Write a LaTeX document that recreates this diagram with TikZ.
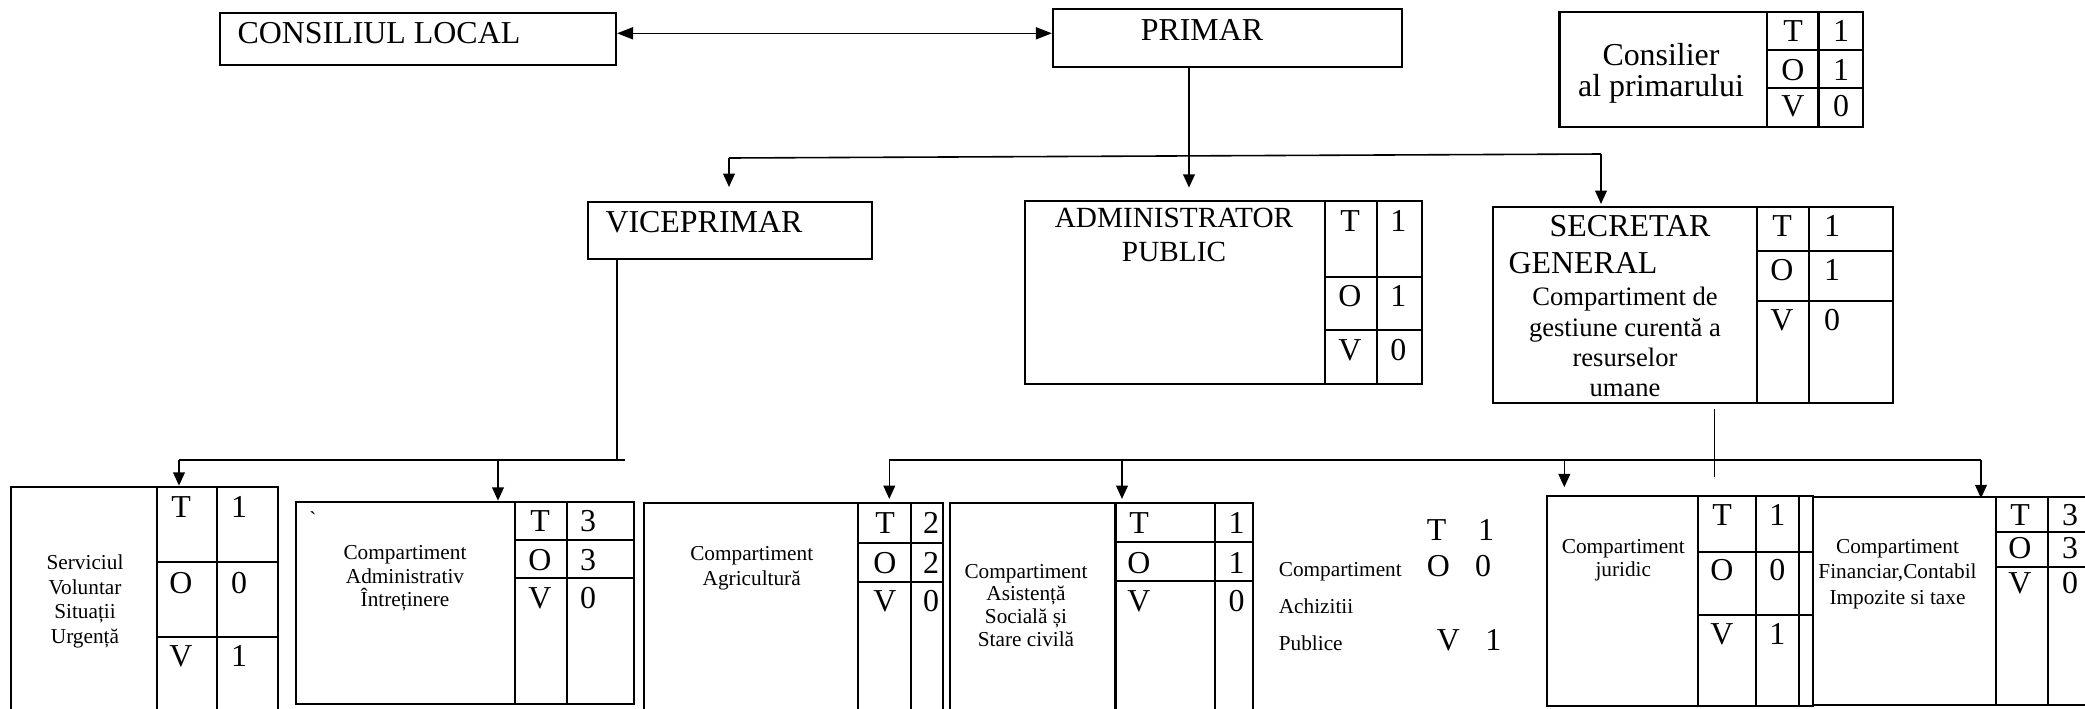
\documentclass[tikz,border=0pt]{standalone}
\usepackage{fontspec}
\setmainfont{Liberation Serif}
\newfontfamily\graveserif{Liberation Serif}[Ligatures=TeXOff]
\usetikzlibrary{arrows.meta,fit,calc}
\newcommand\tovcol[5]{%
  \node[f12] (#1-t) at (#2,#3) {T};
  \node[f12] (#1-o) at (#2,#4) {O};
  \node[f12] (#1-v) at (#2,#5) {V};}
\newcommand\numcol[8]{%
  \node[f12] (#1-nt) at (#2,#3) {#6};
  \node[f12] (#1-no) at (#2,#4) {#7};
  \node[f12] (#1-nv) at (#2,#5) {#8};}
\begin{document}
\begin{tikzpicture}[x=0.376pt,y=-0.376pt,
  box/.style={draw, line width=0.8pt, inner sep=0pt},
  grid/.style={line width=0.8pt},
  conn/.style={line width=0.6pt},
  tipa/.tip={Triangle[length=5pt,width=4.4pt]},
  arr/.style={conn,-tipa},
  tx/.style={inner sep=0pt, anchor=base, align=center},
  f12/.style={tx, font=\fontsize{12}{13.8}\selectfont},
  f11/.style={tx, font=\fontsize{11}{12.7}\selectfont},
  f10/.style={tx, font=\fontsize{10}{11.37}\selectfont},
  f8/.style={tx, font=\fontsize{8}{9.2}\selectfont},
]
\useasboundingbox (0,0) rectangle (2085,708);
\clip (0,0) rectangle (2085,708);

% ---------- top level
\node[box, fit={(220,13)(616,65)}] (cl) {};
\node[f12, anchor=base west] (cltext) at (237,43.3) {CONSILIUL LOCAL};

\node[box, fit={(1053,9.3)(1402,66.7)}] (primar) {};
\node[f12] (primartext) at (1202,40) {PRIMAR};

\node[box, fit={(1559.5,11.7)(1863,126.7)}] (cons) {};
\draw[grid] (1767,11.7) -- (1767,126.7) (1818.5,11.7) -- (1818.5,126.7)
            (1767,50) -- (1863,50) (1767,88.3) -- (1863,88.3);
% multi-line nodes: base anchor = baseline of the last line
\node[f12, font=\fontsize{12}{11.9}\selectfont] (constext) at (1661,96.7) {Consilier\\al primarului};
\tovcol{cons}{1793}{41.7}{80}{116.7}
\numcol{cons}{1841}{41.7}{80}{116.7}{1}{1}{0}

% ---------- second level
\node[box, fit={(588,201.7)(872,259)}] (vp) {};
\node[f12, anchor=base west] (vptext) at (605,232) {VICEPRIMAR};

\node[box, fit={(1025,200.7)(1422,384)}] (admin) {};
\draw[grid] (1325,200.7) -- (1325,384) (1376.7,200.7) -- (1376.7,384)
            (1325,276.7) -- (1422,276.7) (1325,330) -- (1422,330);
\node[f11] (admintext) at (1174,261.7) {ADMINISTRATOR\\PUBLIC};
\tovcol{admin}{1350}{231.7}{306.7}{360}
\numcol{admin}{1398.3}{231.7}{306.7}{360}{1}{1}{0}

\node[box, fit={(1492.7,206.7)(1892.7,403)}] (sec) {};
\draw[grid] (1756.7,206.7) -- (1756.7,403) (1808.7,206.7) -- (1808.7,403)
            (1756.7,250.7) -- (1892.7,250.7) (1756.7,300.7) -- (1892.7,300.7);
\node[f12] (sectext) at (1630,236) {SECRETAR};
\node[f12, anchor=base west] (gentext) at (1508,273) {GENERAL};
\node[f10] (secsub) at (1625,396.7) {Compartiment de\\gestiune curentă a\\resurselor\\umane};
\tovcol{sec}{1782}{236.7}{280}{330}
\numcol{sec}{1832}{236.7}{280}{330}{1}{1}{0}

% ---------- bottom level
\node[box, fit={(11,486.7)(277.7,720)}] (sa) {};
\draw[grid] (156.7,486.7) -- (156.7,720) (217.3,486.7) -- (217.3,720)
            (156.7,561.7) -- (277.7,561.7) (156.7,636.7) -- (277.7,636.7);
\node[f8] (satext) at (85,643.3) {Serviciul\\Voluntar\\Situații\\Urgență};
\tovcol{sa}{181}{517.3}{593.3}{666.7}
\numcol{sa}{239}{517.3}{593.3}{666.7}{1}{0}{1}

\node[box, fit={(295.7,501.7)(634,704.3)}] (sb) {};
\draw[grid] (515,501.7) -- (515,704.3) (567.3,501.7) -- (567.3,704.3)
            (515,540) -- (634,540) (515,578.3) -- (634,578.3);
\node[f8, font=\fontsize{8}{8.9}\graveserif] (sbq) at (313,526) {`};
\node[f8, font=\fontsize{8}{8.9}\selectfont] (sbtext) at (405,606.7) {Compartiment\\Administrativ\\Întreținere};
\tovcol{sb}{540}{531.7}{570}{608.3}
\numcol{sb}{588}{531.7}{570}{608.3}{3}{3}{0}

\node[box, fit={(644,503.3)(943.3,720)}] (sc) {};
\draw[grid] (858.3,503.3) -- (858.3,720) (911,503.3) -- (911,720)
            (858.3,543.3) -- (943.3,543.3) (858.3,581.7) -- (943.3,581.7);
\node[f8, font=\fontsize{8}{9.1}\selectfont] (sctext) at (751.7,585) {Compartiment\\Agricultură};
\tovcol{sc}{885}{533.3}{573.3}{611.7}
\numcol{sc}{931}{533.3}{573.3}{611.7}{2}{2}{0}

\node[box, fit={(950,503)(1252.7,720)}] (sd) {};
\draw[grid] (1115.5,503) -- (1115.5,720) (1215,503) -- (1215,720)
            (1115.5,542) -- (1252.7,542) (1115.5,581) -- (1252.7,581);
\node[f8, font=\fontsize{8}{8.6}\selectfont] (sdtext) at (1026,646.7) {Compartiment\\Asistență\\Socială și\\Stare civilă};
\tovcol{sd}{1139}{533}{573}{611.7}
\numcol{sd}{1236.7}{533}{573}{611.7}{1}{1}{0}

\node[f8, anchor=base west] (ach1) at (1278.3,576.7) {Compartiment};
\node[f8, anchor=base west] (ach2) at (1278.3,613.3) {Achizitii};
\node[f8, anchor=base west] (ach3) at (1278.3,650) {Publice};
\node[f12] (ach-t) at (1436.7,540) {T};
\node[f12] (ach-nt) at (1486,540) {1};
\node[f12] (ach-o) at (1438.3,576.7) {O};
\node[f12] (ach-no) at (1483,576.7) {0};
\node[f12] (ach-v) at (1448.3,650) {V};
\node[f12] (ach-nv) at (1493.3,650) {1};

\node[box, fit={(1546.7,496)(1812.7,705.7)}] (se) {};
\draw[grid] (1698.3,496) -- (1698.3,705.7) (1756,496) -- (1756,705.7) (1799,496) -- (1799,705.7)
            (1698.3,551.7) -- (1812.7,551.7) (1698.3,615) -- (1812.7,615);
\node[f8, font=\fontsize{8}{8.8}\selectfont] (setext) at (1623.3,576.7) {Compartiment\\juridic};
\tovcol{se}{1722}{525}{580}{644}
\numcol{se}{1777.3}{525}{580}{644}{1}{0}{1}

\node[box, fit={(1812.7,496.7)(2095,705)}] (sf) {};
\draw[grid] (1995.7,496.7) -- (1995.7,705) (2048.3,496.7) -- (2048.3,705)
            (1995.7,532.3) -- (2095,532.3) (1995.7,566.7) -- (2095,566.7);
\node[f8, font=\fontsize{8}{9.5}\selectfont] (sftext) at (1897.5,604) {Compartiment\\Financiar,Contabil\\Impozite si taxe};
\tovcol{sf}{2020}{525}{558.3}{593.3}
\numcol{sf}{2070}{525}{558.3}{593.3}{3}{3}{0}

% ---------- connectors
\coordinate (arrowy) at (0,33.3);
\draw[conn, {Triangle[length=6pt,width=4.5pt]}-{Triangle[length=6pt,width=4.5pt]}]
  (cl.east |- arrowy) -- (primar.west |- arrowy);

\coordinate (px) at (1189,156);
\draw[arr] (primar.south -| px) -- ($(admin.north -| px)+(0,-12)$);
\coordinate (hl) at (729,158);
\coordinate (hr) at (1601,154);
\draw[conn] (hl) -- (hr);
\draw[arr] (hl) -- ($(vp.north -| hl)+(0,-13.7)$);
\draw[arr] (hr) -- ($(sec.north -| hr)+(0,-1.7)$);

\coordinate (vx) at (617,460);
\coordinate (la) at (179,460);
\coordinate (lb) at (498,460);
\coordinate (lend) at (625,460);
\draw[conn] (vp.south -| vx) -- (vx);
\draw[conn] (lend) -- (la);
\draw[arr] (la) -- (sa.north -| la);
\draw[arr] (lb) -- (sb.north -| lb);

\coordinate (sx) at (1714.6,476.7);
\coordinate (rc) at (889.3,460);
\coordinate (rd) at (1122,460);
\coordinate (re) at (1564.3,460);
\coordinate (rf) at (1981,460);
\draw[conn] ($(sec.south -| sx)+(0,5)$) -- (sx);
\draw[conn] (rc) -- (rf);
\draw[arr] (rc) -- ($(sc.north -| rc)+(0,-3.3)$);
\draw[arr] (rd) -- ($(sd.north -| rd)+(0,-3)$);
\draw[arr] (re) -- ($(se.north -| re)+(0,-7.7)$);
\draw[arr] (rf) -- ($(sf.north -| rf)+(0,2.6)$);
\end{tikzpicture}
\end{document}
